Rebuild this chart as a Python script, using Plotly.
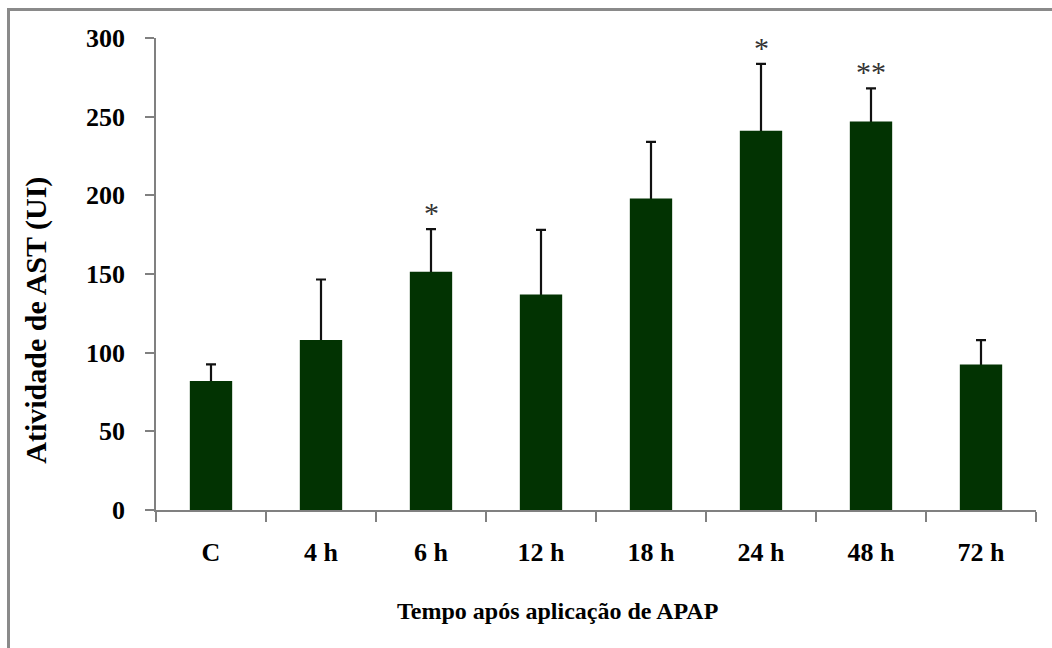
import plotly.graph_objects as go

# Serum AST activity after APAP administration (mean + SD)
categories = ["C", "4 h", "6 h", "12 h", "18 h", "24 h", "48 h", "72 h"]
ast_mean = [82, 108, 151.5, 137, 198, 241, 247, 92.5]
ast_sd = [10.5, 38.5, 27, 41, 36, 42.5, 21, 15.5]
significance = ["", "", "*", "", "", "*", "**", ""]
y_ticks = [0, 50, 100, 150, 200, 250, 300]

W, H = 1052, 648
ML, MR, MT, MB = 156, 16, 38, 137.5
PW, PH = W - ML - MR, H - MT - MB


def px_x(px):
    return (px - ML) / PW


def px_y(py):
    return (H - MB - py) / PH


SERIF = "Liberation Serif, Times New Roman, serif"
BAR = "#023302"
BAR_WIDTH = 0.385

fig = go.Figure()
# error bars first (transparent bars); the solid bars drawn over them hide the lower half
fig.add_trace(go.Bar(
    x=categories,
    y=ast_mean,
    width=BAR_WIDTH,
    marker=dict(color="rgba(0,0,0,0)", line=dict(width=0)),
    error_y=dict(type="data", array=ast_sd, symmetric=True,
                 color="#111111", thickness=2.2, width=5),
    showlegend=False,
    hoverinfo="skip",
))
fig.add_trace(go.Bar(
    x=categories,
    y=ast_mean,
    width=BAR_WIDTH,
    marker=dict(color=BAR, line=dict(width=0)),
    showlegend=False,
    hoverinfo="skip",
))

# significance markers above the error bars
for cat, m, s, mark in zip(categories, ast_mean, ast_sd, significance):
    if mark:
        fig.add_annotation(x=cat, y=m + s, text=mark, showarrow=False,
                           yanchor="bottom", yshift=-2,
                           font=dict(family=SERIF, size=30, color="#333333"))

# axis titles
fig.add_annotation(xref="paper", yref="paper", x=px_x(557), y=px_y(612),
                   text="<b>Tempo após aplicação de APAP</b>", showarrow=False,
                   xanchor="center", yanchor="middle",
                   font=dict(family=SERIF, size=24, color="black"))
fig.add_annotation(xref="paper", yref="paper", x=px_x(36), y=px_y(321),
                   text="<b>Atividade de AST (UI)</b>", showarrow=False,
                   textangle=-90, xanchor="center", yanchor="middle",
                   font=dict(family=SERIF, size=30, color="black"))

# outer frame
fig.add_shape(type="rect", xref="paper", yref="paper",
              x0=px_x(8.5), x1=px_x(1070), y0=px_y(680), y1=px_y(9.5),
              line=dict(color="#8a8a8a", width=3), fillcolor="rgba(0,0,0,0)",
              layer="below")

fig.update_layout(
    width=W, height=H,
    margin=dict(l=ML, r=MR, t=MT, b=MB, pad=0),
    paper_bgcolor="white", plot_bgcolor="white",
    barmode="overlay",
    xaxis=dict(
        type="category", range=[-0.5, 7.5],
        tickvals=categories, ticktext=[f"<b>{c}</b>" for c in categories],
        showline=True, linecolor="#808080", linewidth=1.5,
        ticks="outside", tickson="boundaries", ticklen=10, tickwidth=1.5,
        tickcolor="#808080", showgrid=False, zeroline=False,
        tickfont=dict(family=SERIF, size=26, color="black"),
        ticklabelstandoff=18,
    ),
    yaxis=dict(
        range=[0, 300], tickvals=y_ticks,
        ticktext=[f"<b>{v}</b>" for v in y_ticks],
        showline=True, linecolor="#808080", linewidth=1.5,
        ticks="outside", ticklen=9, tickwidth=1.5, tickcolor="#808080",
        showgrid=False, zeroline=False,
        tickfont=dict(family=SERIF, size=26, color="black"),
        ticklabelstandoff=15,
    ),
)

fig.write_html("out.html")
